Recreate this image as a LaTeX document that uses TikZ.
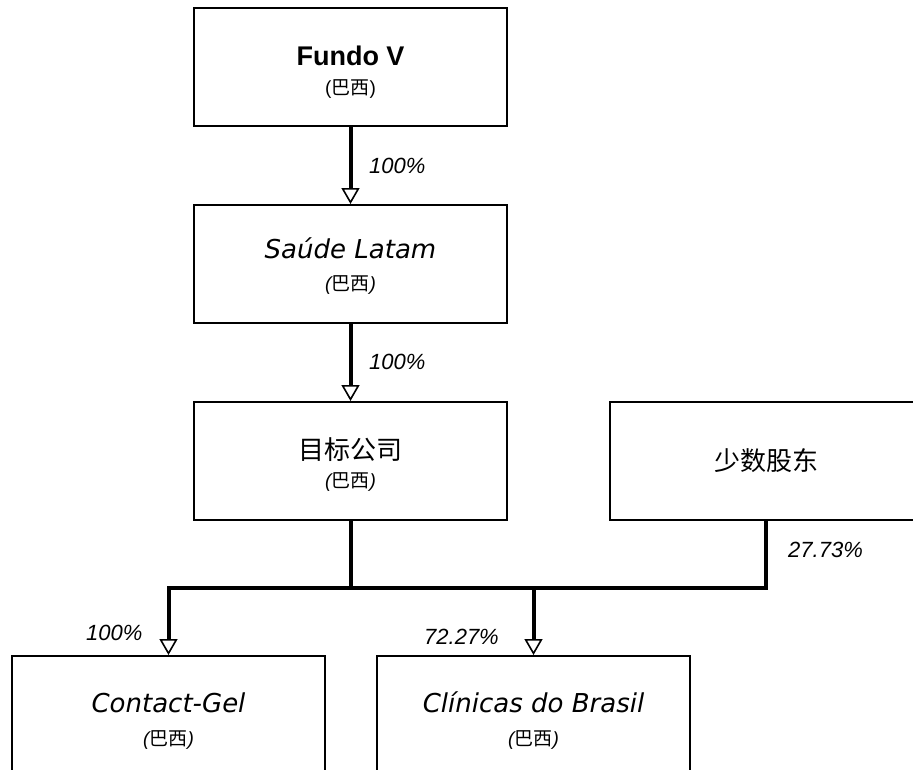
\documentclass[tikz,border=0pt]{standalone}
\usepackage{fontspec}
\setmainfont{Liberation Sans}
\newfontfamily\cjk{Noto Sans CJK SC}
\newfontfamily\ent{DejaVu Sans}
\usetikzlibrary{arrows.meta}
\newcommand{\bx}{{\fontsize{19}{22}\selectfont\itshape({\cjk 巴西})}}
\newcommand{\strutA}[1]{\rule{0pt}{#1}}
\newcommand{\strutB}[1]{\rule[-#1]{0pt}{#1}}
\begin{document}
\begin{tikzpicture}[x=1pt,y=-1pt,
  box/.style={draw, line width=2pt, minimum width=313pt, minimum height=118pt, inner sep=0pt, align=center},
  conn/.style={line width=4pt},
  tipped/.style={-{Triangle[open, length=16pt, width=18pt, line width=1.6pt]}},
  pct/.style={font=\fontsize{22}{26}\selectfont\itshape, inner sep=0pt},
]
\useasboundingbox (0,0) rectangle (913,769);
\fill[white] (0,0) rectangle (913,769);
\clip (0,0) rectangle (913,769);

\node[box, font=\fontsize{19}{29}\selectfont] (fv) at (350.5,67)
  {\strutA{30pt}{\fontsize{27}{30}\selectfont\bfseries Fundo V}\\{\fontsize{19}{22}\selectfont({\cjk 巴西})}\strutB{5pt}};
\node[box, font=\fontsize{19}{32}\selectfont] (sl) at (350.5,264)
  {\strutA{26pt}{\ent\fontsize{26}{30}\selectfont\itshape Saúde Latam}\\\bx\strutB{6pt}};
\node[box, font=\fontsize{19}{28}\selectfont] (tc) at (350.5,461)
  {\strutA{29pt}{\cjk\fontsize{26}{30}\selectfont 目标公司}\\\bx\strutB{5pt}};
\node[box] (ms) at (766,461) {{\cjk\fontsize{26}{30}\selectfont 少数股东}};
\node[box, font=\fontsize{19}{33}\selectfont] (cg) at (168.5,715)
  {\strutA{32pt}{\ent\fontsize{26}{30}\selectfont\itshape Contact-Gel}\\\bx\strutB{5pt}};
\node[box, font=\fontsize{19}{33}\selectfont] (cb) at (533.5,715)
  {\strutA{32pt}{\ent\fontsize{26}{30}\selectfont\itshape Clínicas do Brasil}\\\bx\strutB{5pt}};

\coordinate (bus) at (0,588);

\draw[conn,tipped] (fv.south) -- (sl.north);
\draw[conn,tipped] (sl.south) -- (tc.north);
\draw[conn] (tc.south) -- (tc.south |- bus);
\draw[conn,tipped] (ms.south) |- (cg.north |- bus) -- (cg.north);
\draw[conn,tipped] (cb.north |- bus) -- (cb.north);

\node[pct, anchor=west] (l1) at (369,166) {100\%};
\node[pct, anchor=west] (l2) at (369,362) {100\%};
\node[pct, anchor=west] (l3) at (788,550) {27.73\%};
\node[pct, anchor=west] (l4) at (86,633) {100\%};
\node[pct, anchor=west] (l5) at (424,637) {72.27\%};
\end{tikzpicture}
\end{document}
